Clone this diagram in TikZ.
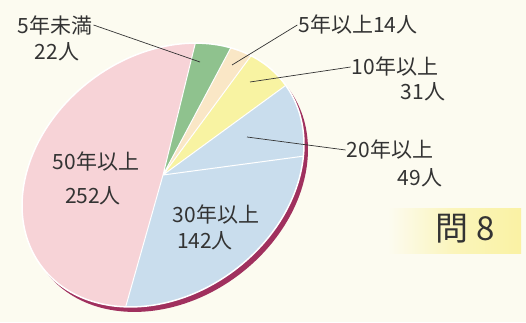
\documentclass[tikz,border=0pt]{standalone}
\usepackage{fontspec}
\setmainfont{Noto Sans CJK JP}
\definecolor{bg}{HTML}{FCFBF0}
\definecolor{pk}{HTML}{F7D3D7}
\definecolor{bl}{HTML}{C9DDED}
\definecolor{yl}{HTML}{F8F3A2}
\definecolor{cr}{HTML}{FAE7C6}
\definecolor{gr}{HTML}{8FC28E}
\definecolor{rimc}{HTML}{A0305E}
\definecolor{txt}{HTML}{333333}
\definecolor{qy}{HTML}{FAF2A4}
\begin{document}
\begin{tikzpicture}[x=1pt,y=1pt,
  lbl/.style={font=\fontsize{21}{22}\selectfont, text=txt, inner sep=1pt},
  leader/.style={draw=txt, line width=0.7pt},
  pieframe/.style={shift={(163,147)}, rotate=37, xscale=152, yscale=119}]
\useasboundingbox (0,0) rectangle (526,322);
\fill[bg] (0,0) rectangle (526,322);
% rim
\begin{scope}[shift={(167,142)}, rotate=37, xscale=152, yscale=119]
  \fill[rimc] (0,0) circle (1);
\end{scope}
% slices
\begin{scope}[pieframe]
  \fill[pk] (0,0) -- (46.2:1) arc[start angle=46.2, end angle=224.1, radius=1] -- cycle;
  \fill[bl] (0,0) -- (224.1:1) arc[start angle=224.1, end angle=324.3, radius=1] -- cycle;
  \fill[bl] (0,0) -- (324.3:1) arc[start angle=324.3, end angle=358.9, radius=1] -- cycle;
  \fill[yl] (0,0) -- (358.9:1) arc[start angle=358.9, end angle=380.8, radius=1] -- cycle;
  \fill[cr] (0,0) -- (20.8:1) arc[start angle=20.8, end angle=30.7, radius=1] -- cycle;
  \fill[gr] (0,0) -- (30.7:1) arc[start angle=30.7, end angle=46.2, radius=1] -- cycle;
  \draw[white, line width=1pt] (0,0) -- (46.2:1) (0,0) -- (224.1:1) (0,0) -- (324.3:1)
    (0,0) -- (358.9:1) (0,0) -- (20.8:1) (0,0) -- (30.7:1);
  \draw[white, line width=1.5pt] (0,0) circle (1);
\end{scope}
% question box
\shade[left color=bg, right color=qy, middle color=qy!70!bg, shading angle=90] (388,69) rectangle (521,114);
\node[font=\fontsize{33}{35}\selectfont, text=txt, inner sep=0pt] (q8) at (465,93) {問 8};
% labels
\node[lbl] (n5u) at (55,297) {5年未満};
\node[lbl] (n5ub) at (57,270) {22人};
\node[lbl] (n5a) at (358,297) {5年以上14人};
\node[lbl] (n10) at (395,255) {10年以上};
\node[lbl] (n10b) at (423,230) {31人};
\node[lbl] (n20) at (390,172) {20年以上};
\node[lbl] (n20b) at (420,144) {49人};
\node[lbl] (n50) at (96,160) {50年以上};
\node[lbl] (n50b) at (93,126) {252人};
\node[lbl] (n30) at (216,107) {30年以上};
\node[lbl] (n30b) at (205,81) {142人};
% leaders
\coordinate (e5u) at (200,260);
\coordinate (e5a) at (232,257);
\coordinate (e10) at (250,240);
\coordinate (e20) at (247,185);
\draw[leader] (n5u.east) -- (e5u);
\draw[leader] (e5a) -- (n5a.west);
\draw[leader] (e10) -- (n10.west);
\draw[leader] (e20) -- (n20.west);
\end{tikzpicture}
\end{document}
